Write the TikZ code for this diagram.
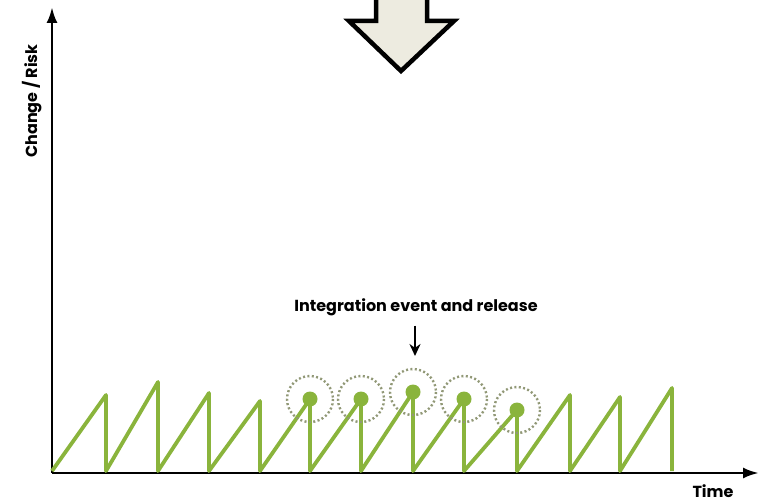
\documentclass[tikz,border=0pt]{standalone}
\usepackage{fontspec}
\setsansfont{Poppins}
\usetikzlibrary{arrows.meta, positioning}
\definecolor{sawgreen}{RGB}{138,180,60}
\definecolor{halogrey}{RGB}{145,152,118}
\definecolor{bigfill}{RGB}{237,235,224}
\tikzstyle{axis} = [line width=2.8pt, -{Latex[length=16pt,width=11pt]}]
\tikzstyle{saw} = [sawgreen, line width=3.8pt, line join=round]
\tikzstyle{rel} = [circle, fill=sawgreen, inner sep=0pt, minimum size=15pt]
\tikzstyle{halo} = [halogrey, line width=2.4pt, dash pattern=on 2pt off 2.4pt]
\tikzstyle{lbl} = [font=\sffamily\bfseries\fontsize{16}{18}\selectfont, inner sep=0pt]
\tikzstyle{arrow} = [line width=2.8pt, -{Stealth[length=12pt,width=11pt]}]

\begin{document}
\begin{tikzpicture}[x=1pt, y=-1pt]
\useasboundingbox (0,0) rectangle (760,502);
\clip (0,0) rectangle (760,502);

%big arrow
\draw [line width=4.5pt, fill=bigfill, line join=miter]
  (376,-10) -- (376,21) -- (349,21) -- (401,71) -- (454,21) -- (427,21) -- (427,-10) -- cycle;

%axes
\coordinate (origin) at (52,473);
\coordinate (ytip) at (52,7);
\coordinate (xtip) at (759,473);
\draw [axis] (origin) -- (ytip);
\draw [axis] (origin) -- (xtip);
\node (ylabel) [lbl, rotate=90, anchor=base] at (37,101) {Change / Risk};
\node (xlabel) [lbl, anchor=base, text depth=0pt] at (713,497) {Time};

%sawtooth
\coordinate (b0) at (52,471);
\coordinate (p1) at (106,395);  \coordinate (b1) at (106,471);
\coordinate (p2) at (158,382);  \coordinate (b2) at (158,471);
\coordinate (p3) at (209,393);  \coordinate (b3) at (209,471);
\coordinate (p4) at (260,401);  \coordinate (b4) at (260,471);
\coordinate (p5) at (310,399);  \coordinate (b5) at (310,471);
\coordinate (p6) at (361,399);  \coordinate (b6) at (361,471);
\coordinate (p7) at (413,392);  \coordinate (b7) at (413,471);
\coordinate (p8) at (464,399);  \coordinate (b8) at (464,471);
\coordinate (p9) at (517,410);  \coordinate (b9) at (517,471);
\coordinate (p10) at (570,395); \coordinate (b10) at (570,471);
\coordinate (p11) at (620,397); \coordinate (b11) at (620,471);
\coordinate (p12) at (672,388); \coordinate (b12) at (672,471);
\draw [saw] (b0) -- (p1) -- (b1) -- (p2) -- (b2) -- (p3) -- (b3) -- (p4) -- (b4)
  -- (p5) -- (b5) -- (p6) -- (b6) -- (p7) -- (b7) -- (p8) -- (b8) -- (p9) -- (b9)
  -- (p10) -- (b10) -- (p11) -- (b11) -- (p12) -- (b12);

%release events
\node (rel1) [rel] at (p5) {};
\node (rel2) [rel] at (p6) {};
\node (rel3) [rel] at (p7) {};
\node (rel4) [rel] at (p8) {};
\node (rel5) [rel] at (p9) {};
\draw [halo] (rel1) circle (23);
\draw [halo] (rel2) circle (23);
\draw [halo] (rel3) circle (23);
\draw [halo] (rel4) circle (23);
\draw [halo] (rel5) circle (23);

%label
\node (release) [lbl, anchor=base] at (416,312) {Integration event and release};
\coordinate (relmark) at (415,356);
\draw [arrow] (release.south -| relmark) ++(0,9) -- (relmark);

\end{tikzpicture}
\end{document}
